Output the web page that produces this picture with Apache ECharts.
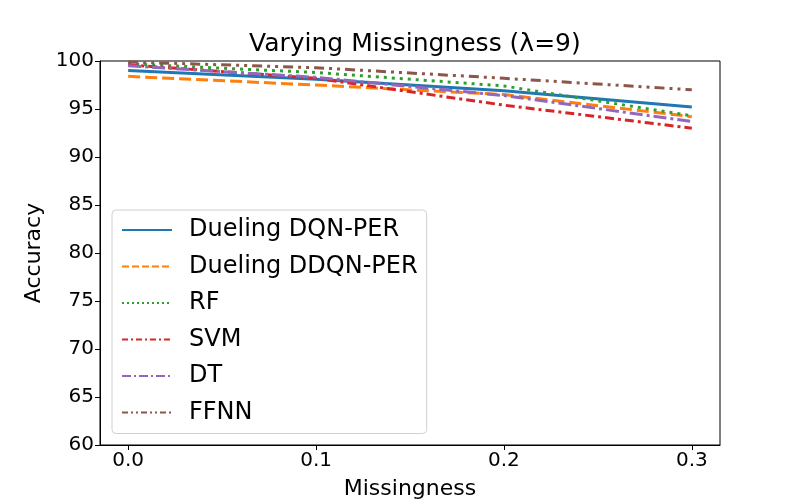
<!DOCTYPE html>
<html>
<head>
<meta charset="utf-8">
<script src="https://cdn.jsdelivr.net/npm/echarts@6/dist/echarts.min.js"></script>
<style>
  html, body { margin: 0; padding: 0; background: #fff; }
  #chart { width: 800px; height: 500px; }
</style>
</head>
<body>
<div id="chart"></div>
<script>
var missingness = [0.0, 0.1, 0.2, 0.3];
var xTicks = [0, 0.1, 0.2, 0.3];

var dqnPer = [99.0, 98.1, 96.9, 95.2];
var ddqnPer = [98.4, 97.5, 96.5, 94.2];
var rf = [99.7, 98.8, 97.4, 94.3];
var svm = [99.6, 98.2, 95.4, 93.0];
var dt = [99.5, 98.3, 96.4, 93.7];
var ffnn = [99.9, 99.3, 98.2, 97.0];

var font = 'DejaVu Sans';

function pairs(vals) {
    return missingness.map(function (x, i) { return [x, vals[i]]; });
}

// name, values, colour, dash in plot, dash in legend
var seriesDefs = [
    ['Dueling DQN-PER', dqnPer, '#1f77b4', 'solid', 'solid'],
    ['Dueling DDQN-PER', ddqnPer, '#ff7f0e', [12, 5], [7, 3]],
    ['RF', rf, '#2ca02c', [3, 5], [2, 3]],
    ['SVM', svm, '#d62728', [9, 4, 3, 4], [6, 3, 2, 3]],
    ['DT', dt, '#9467bd', [13, 4, 3, 4], [9, 3, 2, 3]],
    ['FFNN', ffnn, '#8c564b', [10, 5, 3, 5, 3, 5], [6, 3, 2, 3, 2, 3]]
];

var chart = echarts.init(document.getElementById('chart'));

var option = {
    animation: false,
    title: {
        text: 'Varying Missingness (λ=9)',
        left: 244,
        top: 27,
        textStyle: { fontFamily: font, fontSize: 25, fontWeight: 'normal', color: '#000' }
    },
    grid: {
        left: 100,
        right: 80,
        top: 61,
        bottom: 55,
        outerBoundsMode: 'none',
        show: true,
        borderColor: '#000',
        borderWidth: 1
    },
    legend: {
        left: 112,
        top: 210,
        orient: 'vertical',
        itemWidth: 50,
        itemHeight: 22,
        itemGap: 12.5,
        padding: [8, 9, 9, 9],
        backgroundColor: '#fff',
        borderColor: '#d0d0d0',
        borderWidth: 1,
        borderRadius: 4,
        textStyle: { fontFamily: font, fontSize: 24, color: '#000', padding: [0, 0, 0, 12] },
        data: seriesDefs.map(function (d) {
            return {
                name: d[0],
                itemStyle: { opacity: 0, borderWidth: 0 },
                lineStyle: { width: 2, type: d[4] }
            };
        })
    },
    xAxis: {
        type: 'value',
        min: -0.015,
        max: 0.315,
        name: 'Missingness',
        nameLocation: 'middle',
        nameGap: 33,
        nameTextStyle: { fontFamily: font, fontSize: 22, color: '#000' },
        axisLine: { show: true, onZero: false, lineStyle: { color: '#000', width: 1 } },
        axisTick: { show: true, customValues: xTicks, length: 5, lineStyle: { color: '#000' } },
        axisLabel: {
            customValues: xTicks,
            fontFamily: font, fontSize: 20, color: '#000', margin: 6,
            formatter: function (v) { return v.toFixed(1); }
        },
        splitLine: { show: false }
    },
    yAxis: {
        type: 'value',
        min: 60,
        max: 100,
        interval: 5,
        name: 'Accuracy',
        nameLocation: 'middle',
        nameGap: 50,
        nameTextStyle: { fontFamily: font, fontSize: 22, color: '#000' },
        axisLine: { show: true, onZero: false, lineStyle: { color: '#000', width: 1 } },
        axisTick: { show: true, length: 5, lineStyle: { color: '#000' } },
        axisLabel: { fontFamily: font, fontSize: 20, color: '#000', margin: 6 },
        splitLine: { show: false }
    },
    series: seriesDefs.map(function (d) {
        return {
            name: d[0],
            type: 'line',
            data: pairs(d[1]),
            symbol: 'none',
            color: d[2],
            lineStyle: { color: d[2], width: 3, type: d[3], cap: 'butt' }
        };
    })
};

chart.setOption(option);
</script>
</body>
</html>
